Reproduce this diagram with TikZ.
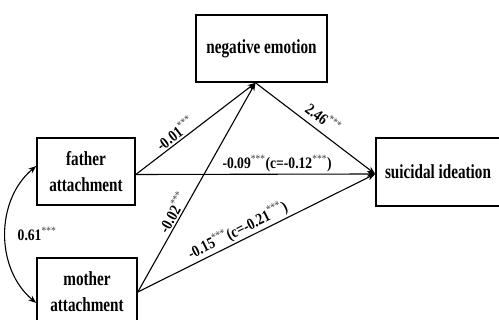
\documentclass[tikz,border=0pt]{standalone}
\usepackage{fontspec}
\setmainfont{Liberation Serif}
\newfontfamily\boxfont{Liberation Serif}[FakeStretch=0.76]
\newfontfamily\lblfont{Liberation Serif}[FakeStretch=0.85]
\usetikzlibrary{arrows.meta,calc}
\newcommand{\sigstars}{\textsuperscript{\normalfont\lblfont\color{black!75}***}}
\begin{document}
\begin{tikzpicture}[x=1pt,y=-1pt,
  box/.style={draw,line width=1.6pt,align=center,inner sep=0pt,
    font=\boxfont\fontsize{20}{26}\selectfont\bfseries},
  conn/.style={-{Stealth[length=8pt,width=6pt]},line width=1.1pt},
  lbl/.style={font=\lblfont\fontsize{16}{18}\selectfont\bfseries,inner sep=1.5pt}]
\useasboundingbox (0,0) rectangle (499,320);
\node[box,minimum width=131pt,minimum height=67pt] (ne) at (261.5,48.5) {negative emotion};
\node[box,minimum width=98pt,minimum height=67pt] (fa) at (86,171.5) {father\\attachment};
\node[box,minimum width=100pt,minimum height=68pt] (mo) at (87,292) {mother\\attachment};
\node[box,minimum width=124pt,minimum height=68pt] (si) at (438,172) {suicidal ideation};
\coordinate (nep) at ([xshift=-6pt]ne.south);
\coordinate (fap) at ([yshift=-3pt]fa.east);
\coordinate (sip) at ([yshift=-2pt]si.west);
\draw[conn] (fap) -- node[lbl,sloped,above,pos=0.37] {-0.01\sigstars} (nep);
\draw[conn] (mo.east) -- node[lbl,sloped,above,pos=0.36] {-0.02\sigstars} (nep);
\draw[conn] (nep) -- node[lbl,sloped,above,pos=0.5,inner sep=6pt] {2.46\sigstars} (sip);
\draw[conn] (fap) -- node[lbl,above,pos=0.59] {-0.09\sigstars(c=-0.12\sigstars)} (sip);
\draw[conn] (mo.east) -- node[lbl,sloped,above,pos=0.44] {-0.15\sigstars(c=-0.21\sigstars)} (sip);
\draw[{Stealth[length=8pt,width=6pt]}-{Stealth[length=8pt,width=6pt]},line width=1.1pt]
  ([yshift=5.5pt]fa.west) to[out=220,in=140] ([yshift=-11pt]mo.west);
\node[lbl] (r) at (37,234) {0.61\sigstars};
\end{tikzpicture}
\end{document}
